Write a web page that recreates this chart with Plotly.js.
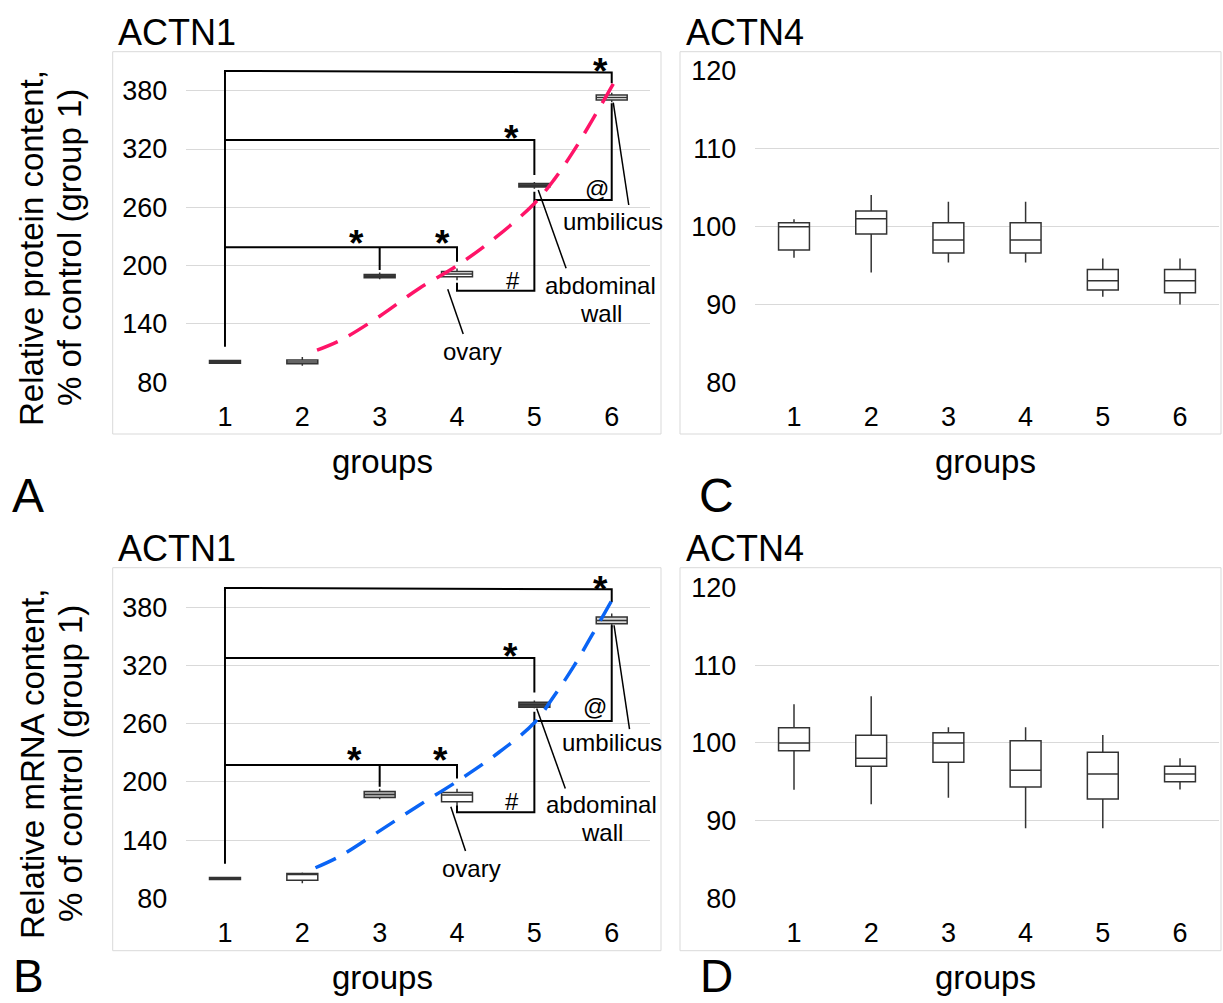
<!DOCTYPE html>
<html><head><meta charset="utf-8">
<script src="https://cdn.plot.ly/plotly-3.0.1.min.js"></script>
<style>html,body{margin:0;padding:0;background:#fff}#chart{width:1223px;height:1003px}</style>
</head><body><div id="chart"></div><script>
// ---------- data ----------
const groups = [1, 2, 3, 4, 5, 6];
const groupLabels = ['1', '2', '3', '4', '5', '6'];

// A: ACTN1 protein
const aLow = [99.5, 97, 186, 185, 279, 368];
const aQ1  = [99.5, 99, 187.5, 188.5, 281, 370.5];
const aMed = [101, 101, 189, 191.5, 282.5, 373];
const aQ3  = [102.5, 103, 191, 194, 284.5, 375.5];
const aHigh= [103, 106, 193, 197, 286, 378];
const aTrendX = [2.19, 2.5, 3.0, 3.5, 4.0, 4.5, 5.0, 5.25, 5.5, 5.75, 6.02];
const aTrendY = [113, 123.5, 148, 176, 200, 229, 264, 288, 317, 350, 387];

// B: ACTN1 mRNA
const bLow = [99.5, 95.5, 182, 176, 276, 359.5];
const bQ1  = [99.5, 98.5, 184, 179.5, 277, 363];
const bMed = [100.5, 104.5, 187, 186.5, 279.5, 366.5];
const bQ3  = [101.5, 105.5, 190, 189, 282, 370];
const bHigh= [102, 106.5, 193, 193, 284, 373.5];
const bTrendX = [2.17, 2.5, 3.0, 3.5, 4.0, 4.5, 5.0, 5.25, 5.5, 5.75, 6.0];
const bTrendY = [111.5, 124, 149.5, 175.5, 200.5, 228, 261, 288, 318, 352, 387];

// C: ACTN4 protein
const cLow = [96.0, 94.1, 95.4, 95.4, 91.0, 90.0];
const cQ1  = [97.0, 99.05, 96.6, 96.6, 91.86, 91.5];
const cMed = [100.0, 101.0, 98.3, 98.3, 93.05, 93.05];
const cQ3  = [100.5, 102.0, 100.5, 100.5, 94.5, 94.5];
const cHigh= [100.94, 104.07, 103.2, 103.2, 95.9, 95.9];

// D: ACTN4 mRNA
const dLow = [93.97, 92.09, 92.94, 89.0, 89.0, 94.0];
const dQ1  = [98.98, 96.97, 97.49, 94.32, 92.77, 95.0];
const dMed = [99.97, 98.0, 99.97, 96.46, 95.99, 96.0];
const dQ3  = [101.94, 100.96, 101.3, 100.27, 98.78, 97.0];
const dHigh= [104.95, 105.98, 101.99, 102.0, 101.0, 98.0];

// significance brackets (polylines: [x...], [y...])
const aBrackets = [
  [[1, 1, 6, 6], [116.6, 400.3, 398.8, 387.6]],
  [[1, 5, 5], [329.3, 329.3, 293.3]],
  [[1, 4, 4], [218.9, 218.9, 204]],
  [[3, 3], [218.9, 195.5]],
  [[4, 4, 5, 5], [182.5, 174.2, 174.2, 276]],
  [[5, 6, 6], [267.6, 267.6, 367]]
];
const aCallouts = [
  [[3.88, 4.08], [175.7, 129.7]],
  [[5.05, 5.41], [277.8, 197.3]],
  [[6.02, 6.22], [367.7, 262.4]]
];
const aMarks = [
  {x: 2.70, y: 231.6, t: '*'}, {x: 3.81, y: 231.6, t: '*'},
  {x: 4.70, y: 339.6, t: '*'}, {x: 5.86, y: 409.5, t: '*'},
  {x: 4.72, y: 185.2, t: '#'}, {x: 5.81, y: 279.6, t: '@'}
];
const aLabels = [
  {x: 4.20, y: 111.5, t: 'ovary'}, {x: 5.86, y: 180.1, t: 'abdominal'},
  {x: 5.86, y: 150.3, t: 'wall'}, {x: 6.01, y: 245, t: 'umbilicus'}
];

const bBrackets = [
  [[1, 1, 6, 6], [115.5, 399.9, 398.5, 385.5]],
  [[1, 5, 5], [327.8, 327.8, 292.2]],
  [[1, 4, 4], [217.3, 217.3, 203.6]],
  [[3, 3], [217.3, 194.9]],
  [[4, 4, 5, 5], [176, 168.6, 168.6, 272.2]],
  [[5, 6, 6], [262.9, 262.9, 361.5]]
];
const bCallouts = [
  [[3.92, 4.11], [174.3, 128.7]],
  [[5.03, 5.40], [275.7, 193.3]],
  [[6.03, 6.23], [361.5, 254.4]]
];
const bMarks = [
  {x: 2.68, y: 231, t: '*'}, {x: 3.79, y: 231, t: '*'},
  {x: 4.69, y: 339, t: '*'}, {x: 5.85, y: 407.8, t: '*'},
  {x: 4.71, y: 180.2, t: '#'}, {x: 5.78, y: 277.3, t: '@'}
];
const bLabels = [
  {x: 4.19, y: 110.9, t: 'ovary'}, {x: 5.87, y: 176.2, t: 'abdominal'},
  {x: 5.87, y: 147.4, t: 'wall'}, {x: 6.00, y: 241, t: 'umbilicus'}
];

// ---------- drawing ----------
const W = 1223, H = 1003;
const px = v => v / W, py = v => 1 - v / H;
const FONT = 'Liberation Sans, Arial, sans-serif';
const traces = [];
const annotations = [];

const fillsA = ['#4d4d4d', '#ffffff', '#4d4d4d', '#ffffff', '#4d4d4d', '#ffffff'];
const fillsB = ['#4d4d4d', '#ffffff', '#bfbfbf', '#ffffff', '#4d4d4d', '#d9d9d9'];
const fillsW = ['#ffffff', '#ffffff', '#ffffff', '#ffffff', '#ffffff', '#ffffff'];

function addBoxes(xa, ya, low, q1, med, q3, high, fills) {
  groups.forEach((g, i) => {
    traces.push({
      type: 'box', xaxis: xa, yaxis: ya, x: [g],
      lowerfence: [low[i]], q1: [q1[i]], median: [med[i]], q3: [q3[i]], upperfence: [high[i]],
      width: 0.4, whiskerwidth: 0, fillcolor: fills[i],
      line: {color: '#333333', width: 1.5}, boxpoints: false,
      hoverinfo: 'skip', showlegend: false
    });
  });
}
function addLines(xa, ya, list, width) {
  list.forEach(p => traces.push({
    type: 'scatter', mode: 'lines', xaxis: xa, yaxis: ya, x: p[0], y: p[1],
    line: {color: '#000000', width: width}, hoverinfo: 'skip', showlegend: false, cliponaxis: false
  }));
}
function addMarks(xa, ya, marks, labels) {
  marks.forEach(m => annotations.push({
    xref: xa, yref: ya, x: m.x, y: m.y, text: m.t === '*' ? '<b>*</b>' : m.t,
    showarrow: false, xanchor: 'center', yanchor: 'middle',
    yshift: m.t === '*' ? -9 : 0,
    font: {family: FONT, size: m.t === '*' ? 37 : 24, color: '#000'}
  }));
  labels.forEach(m => annotations.push({
    xref: xa, yref: ya, x: m.x, y: m.y, text: m.t, showarrow: false,
    xanchor: 'center', yanchor: 'middle',
    font: {family: FONT, size: 24, color: '#000'}
  }));
}

// A
addBoxes('x', 'y', aLow, aQ1, aMed, aQ3, aHigh, fillsA);
addLines('x', 'y', aBrackets, 2);
addLines('x', 'y', aCallouts, 1.5);
traces.push({type: 'scatter', mode: 'lines', xaxis: 'x', yaxis: 'y', x: aTrendX, y: aTrendY,
  line: {color: '#ff1468', width: 3.5, dash: '22px,13px', shape: 'spline', smoothing: 1},
  hoverinfo: 'skip', showlegend: false, cliponaxis: false});
addMarks('x', 'y', aMarks, aLabels);
// C
addBoxes('x2', 'y2', cLow, cQ1, cMed, cQ3, cHigh, fillsW);
// B
addBoxes('x3', 'y3', bLow, bQ1, bMed, bQ3, bHigh, fillsB);
addLines('x3', 'y3', bBrackets, 2);
addLines('x3', 'y3', bCallouts, 1.5);
traces.push({type: 'scatter', mode: 'lines', xaxis: 'x3', yaxis: 'y3', x: bTrendX, y: bTrendY,
  line: {color: '#0a64f5', width: 3.5, dash: '22px,13px', shape: 'spline', smoothing: 1},
  hoverinfo: 'skip', showlegend: false, cliponaxis: false});
addMarks('x3', 'y3', bMarks, bLabels);
// D
addBoxes('x4', 'y4', dLow, dQ1, dMed, dQ3, dHigh, fillsW);

function xax(d0, d1, anchor) {
  return {domain: [px(d0), px(d1)], range: [0.5, 6.5], anchor: anchor,
    tickmode: 'array', tickvals: groups, ticktext: groupLabels,
    showgrid: false, zeroline: false, showline: false, ticks: '',
    tickfont: {family: FONT, size: 27, color: '#000'}, ticklabelstandoff: 16, fixedrange: true};
}
function yax(d0, d1, anchor, r, dt) {
  return {domain: [py(d1), py(d0)], range: r, anchor: anchor, tick0: r[0], dtick: dt,
    showgrid: true, gridcolor: '#d9d9d9', gridwidth: 1, zeroline: false, showline: false, ticks: '',
    tickfont: {family: FONT, size: 27, color: '#000'}, ticklabelstandoff: 18, fixedrange: true};
}

function txt(x, y, t, size, anchor, angle) {
  annotations.push({xref: 'paper', yref: 'paper', x: px(x), y: py(y), text: t, showarrow: false,
    xanchor: anchor || 'center', yanchor: 'middle', textangle: angle || 0, borderpad: 0,
    font: {family: FONT, size: size, color: '#000'}});
}
// titles / labels (A,C top row; B,D bottom row)
txt(117, 32.4, 'ACTN1', 36, 'left');
txt(685, 32.4, 'ACTN4', 36, 'left');
txt(117, 548.4, 'ACTN1', 36, 'left');
txt(685, 548.4, 'ACTN4', 36, 'left');
txt(382, 461.5, 'groups', 33);
txt(985, 461.5, 'groups', 33);
txt(382, 977.5, 'groups', 33);
txt(985, 977.5, 'groups', 33);
txt(28, 495, 'A', 48);
txt(716, 495, 'C', 48);
txt(28, 976, 'B', 46);
txt(716, 976, 'D', 46);
txt(32, 248, 'Relative protein content,', 33, 'center', -90);
txt(70, 248, '% of control (group 1)', 33, 'center', -90);
txt(32, 764, 'Relative mRNA content,', 33, 'center', -90);
txt(70, 764, '% of control (group 1)', 33, 'center', -90);

const frame = (x0, y0, x1, y1) => ({type: 'rect', xref: 'paper', yref: 'paper',
  x0: px(x0), x1: px(x1), y0: py(y1), y1: py(y0), line: {color: '#d9d9d9', width: 1}, layer: 'below'});

const layout = {
  width: W, height: H, margin: {l: 0, r: 0, t: 0, b: 0},
  paper_bgcolor: '#ffffff', plot_bgcolor: 'rgba(0,0,0,0)',
  font: {family: FONT, color: '#000'}, showlegend: false, boxmode: 'overlay',
  xaxis: xax(186.3, 650.4, 'y'), yaxis: yax(51.8, 382.3, 'x', [80, 420], 60),
  xaxis2: xax(755.4, 1218.6, 'y2'), yaxis2: yax(71, 382.3, 'x2', [80, 120], 10),
  xaxis3: xax(186.3, 650.4, 'y3'), yaxis3: yax(568.5, 898.3, 'x3', [80, 420], 60),
  xaxis4: xax(755.4, 1218.6, 'y4'), yaxis4: yax(587.3, 898.3, 'x4', [80, 120], 10),
  shapes: [frame(112.7, 51.7, 661, 434), frame(680, 51.7, 1221, 434),
           frame(112.7, 567.7, 661, 950.7), frame(680, 567.7, 1221, 950.7)],
  annotations: annotations
};
Plotly.newPlot('chart', traces, layout, {staticPlot: true, displayModeBar: false});
</script></body></html>
